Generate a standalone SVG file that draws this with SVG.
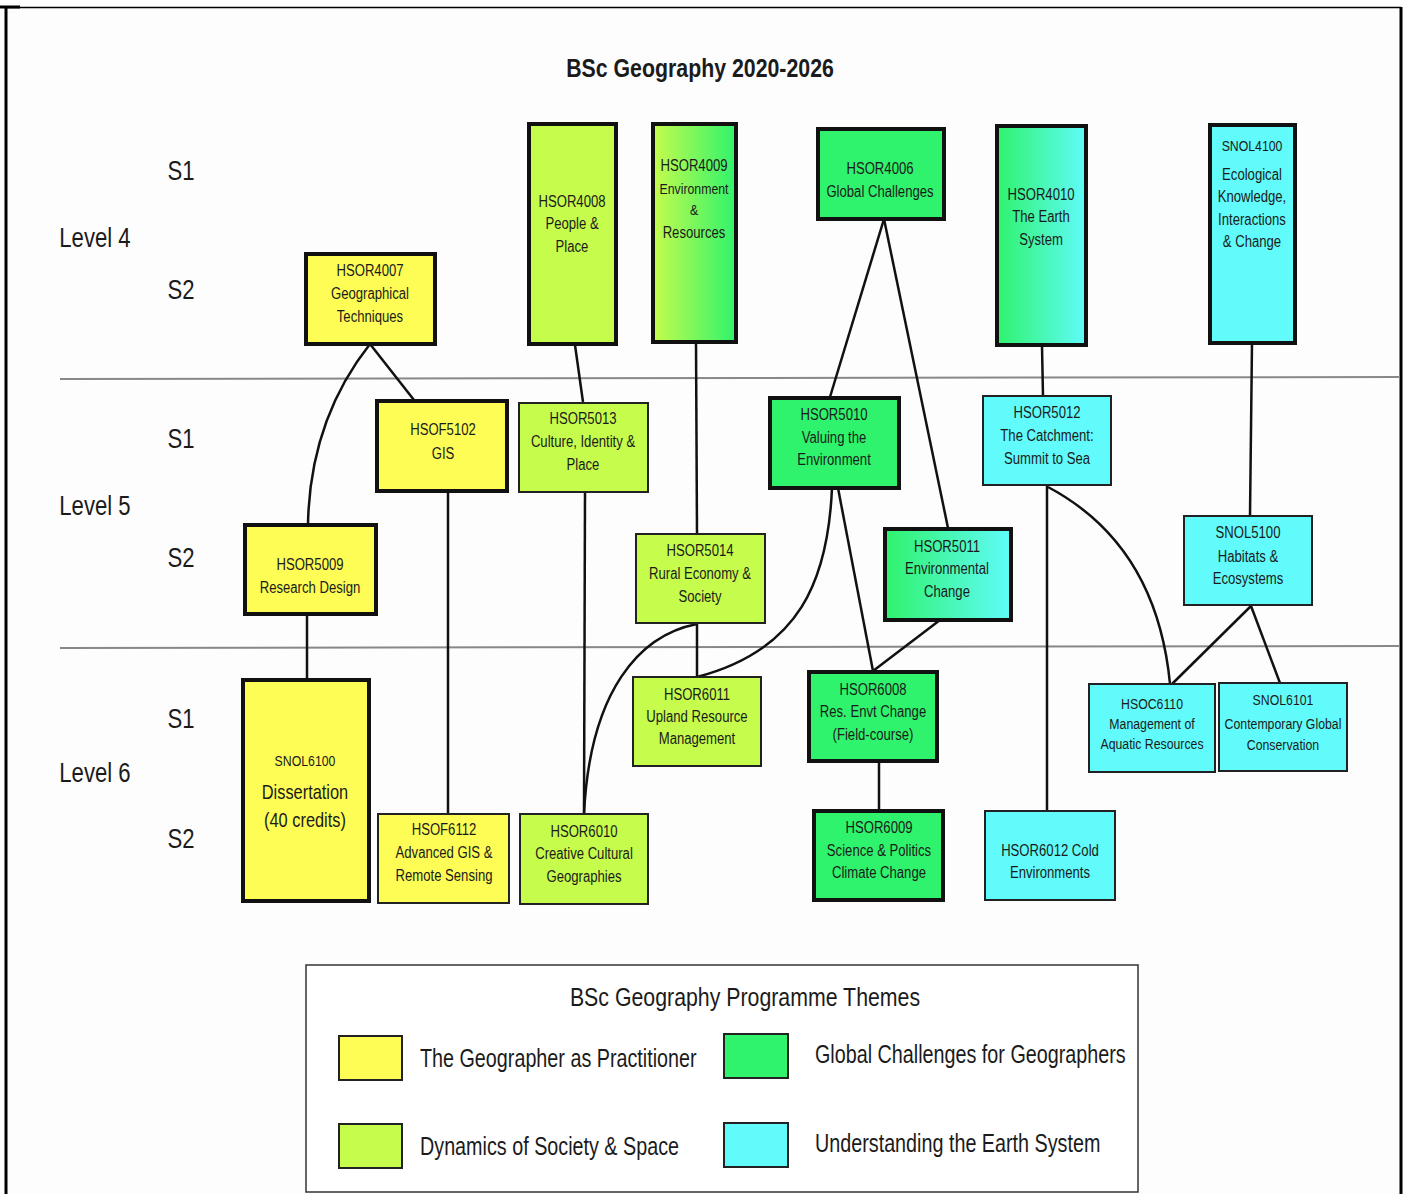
<svg xmlns="http://www.w3.org/2000/svg" width="1405" height="1194" viewBox="0 0 1405 1194">
<defs>
<linearGradient id="gLG" x1="0" y1="0" x2="1" y2="0"><stop offset="0" stop-color="#c6fc4c"/><stop offset="1" stop-color="#2ff36c"/></linearGradient>
<linearGradient id="gGC" x1="0" y1="0" x2="1" y2="0"><stop offset="0" stop-color="#2ff36c"/><stop offset="1" stop-color="#60fbfa"/></linearGradient>
<style>
text{font-family:"Liberation Sans",Arial,sans-serif;fill:#1b1b1b}
.c{text-anchor:middle;transform-box:fill-box;transform-origin:center;transform:scaleX(.82)}
.l{text-anchor:start;transform-box:fill-box;transform-origin:left center;transform:scaleX(.76)}
.n{font-size:16px}
.s{font-size:15px}
.lv{font-size:27px}
.y{fill:#fdfd55}.lm{fill:#c6fc4c}.g{fill:#2ff36c}.cy{fill:#60fbfa}
.k{stroke:#111;stroke-width:4}
.t{stroke:#222;stroke-width:2}
.e{fill:none;stroke:#111;stroke-width:2.5}
</style>
</defs>
<rect width="1405" height="1194" fill="#fff"/>
<rect x="7" y="8" width="1393" height="1186" fill="#fdfdfd"/>
<g id="frame" fill="none" stroke="#000">
<line x1="6" y1="7" x2="6" y2="1194" stroke-width="3"/>
<line x1="5" y1="7.5" x2="1401" y2="7.5" stroke-width="1.5"/>
<line x1="0" y1="7" x2="20" y2="7" stroke-width="3"/>
<line x1="1401" y1="7" x2="1401" y2="1194" stroke-width="3"/>
</g>
<text id="title" class="c" x="700" y="77" font-size="26" font-weight="bold">BSc Geography 2020-2026</text>
<g id="dividers" stroke="#888" stroke-width="2">
<line x1="60" y1="379" x2="1400" y2="377"/>
<line x1="60" y1="648" x2="1400" y2="646"/>
</g>
<g id="levels">
<text class="c lv" x="181" y="180">S1</text>
<text class="c lv" x="95" y="247">Level 4</text>
<text class="c lv" x="181" y="299">S2</text>
<text class="c lv" x="181" y="448">S1</text>
<text class="c lv" x="95" y="515">Level 5</text>
<text class="c lv" x="181" y="567">S2</text>
<text class="c lv" x="181" y="728">S1</text>
<text class="c lv" x="95" y="782">Level 6</text>
<text class="c lv" x="181" y="848">S2</text>
</g>
<g id="connectors">
<path class="e" d="M370,344 L414,400"/>
<path class="e" d="M370,344 Q310,420 308,524"/>
<path class="e" d="M575,345 L583,402"/>
<path class="e" d="M696,342 L697,534"/>
<path class="e" d="M884,219 L830,397"/>
<path class="e" d="M884,219 L948,528"/>
<path class="e" d="M1042,346 L1043,396"/>
<path class="e" d="M1252,343 L1250,516"/>
<path class="e" d="M448,491 L448,814"/>
<path class="e" d="M585,492 L584,814"/>
<path class="e" d="M307,615 L307,679"/>
<path class="e" d="M697,624 L697,677"/>
<path class="e" d="M697,624 C640,635 590,690 584,814"/>
<path class="e" d="M832,488 C828,580 800,650 697,677"/>
<path class="e" d="M838,488 L873,671"/>
<path class="e" d="M940,620 L873,671"/>
<path class="e" d="M879,762 L879,810"/>
<path class="e" d="M1047,486 L1047,810"/>
<path class="e" d="M1048,487 C1110,520 1160,580 1170,684"/>
<path class="e" d="M1251,606 L1172,684"/>
<path class="e" d="M1251,606 L1280,683"/>
</g>
<g id="HSOR4007"><rect class="y k" x="306" y="254" width="129" height="90"/>
<text class="c n" x="370" y="276">HSOR4007</text><text class="c n" x="370" y="299">Geographical</text><text class="c n" x="370" y="322">Techniques</text></g>
<g id="HSOR4008"><rect class="lm k" x="529" y="124" width="87" height="220"/>
<text class="c n" x="572" y="207">HSOR4008</text><text class="c n" x="572" y="229">People &amp;</text><text class="c n" x="572" y="252">Place</text></g>
<g id="HSOR4009"><rect fill="url(#gLG)" class="k" x="653" y="124" width="83" height="218"/>
<text class="c n" x="694" y="171">HSOR4009</text><text class="c s" x="694" y="194">Environment</text><text class="c s" x="694" y="215">&amp;</text><text class="c n" x="694" y="238">Resources</text></g>
<g id="HSOR4006"><rect class="g k" x="818" y="129" width="126" height="90"/>
<text class="c n" x="880" y="174">HSOR4006</text><text class="c n" x="880" y="197">Global Challenges</text></g>
<g id="HSOR4010"><rect fill="url(#gGC)" class="k" x="997" y="126" width="89" height="219"/>
<text class="c n" x="1041" y="200">HSOR4010</text><text class="c n" x="1041" y="222">The Earth</text><text class="c n" x="1041" y="245">System</text></g>
<g id="SNOL4100"><rect class="cy k" x="1210" y="125" width="85" height="218"/>
<text class="c s" x="1252" y="151">SNOL4100</text><text class="c n" x="1252" y="180">Ecological</text><text class="c n" x="1252" y="202">Knowledge,</text><text class="c n" x="1252" y="225">Interactions</text><text class="c n" x="1252" y="247">&amp; Change</text></g>
<g id="HSOF5102"><rect class="y k" x="377" y="401" width="130" height="90"/>
<text class="c n" x="443" y="435">HSOF5102</text><text class="c n" x="443" y="459">GIS</text></g>
<g id="HSOR5013"><rect class="lm t" x="519" y="403" width="129" height="89"/>
<text class="c n" x="583" y="424">HSOR5013</text><text class="c n" x="583" y="447">Culture, Identity &amp;</text><text class="c n" x="583" y="470">Place</text></g>
<g id="HSOR5009"><rect class="y k" x="245" y="525" width="131" height="89"/>
<text class="c n" x="310" y="570">HSOR5009</text><text class="c n" x="310" y="593">Research Design</text></g>
<g id="HSOR5014"><rect class="lm t" x="636" y="534" width="129" height="89"/>
<text class="c n" x="700" y="556">HSOR5014</text><text class="c n" x="700" y="579">Rural Economy &amp;</text><text class="c n" x="700" y="602">Society</text></g>
<g id="HSOR5010"><rect class="g k" x="770" y="398" width="129" height="90"/>
<text class="c n" x="834" y="420">HSOR5010</text><text class="c n" x="834" y="443">Valuing the</text><text class="c n" x="834" y="465">Environment</text></g>
<g id="HSOR5011"><rect fill="url(#gGC)" class="k" x="885" y="529" width="126" height="91"/>
<text class="c n" x="947" y="552">HSOR5011</text><text class="c n" x="947" y="574">Environmental</text><text class="c n" x="947" y="597">Change</text></g>
<g id="HSOR5012"><rect class="cy t" x="983" y="396" width="128" height="89"/>
<text class="c n" x="1047" y="418">HSOR5012</text><text class="c n" x="1047" y="441">The Catchment:</text><text class="c n" x="1047" y="464">Summit to Sea</text></g>
<g id="SNOL5100"><rect class="cy t" x="1184" y="516" width="128" height="89"/>
<text class="c n" x="1248" y="538">SNOL5100</text><text class="c n" x="1248" y="562">Habitats &amp;</text><text class="c n" x="1248" y="584">Ecosystems</text></g>
<g id="SNOL6100"><rect class="y k" x="243" y="680" width="126" height="221"/>
<text class="c s" x="305" y="766">SNOL6100</text><text class="c" x="305" y="799" font-size="20">Dissertation</text><text class="c" x="305" y="827" font-size="20">(40 credits)</text></g>
<g id="HSOF6112"><rect class="y t" x="378" y="814" width="131" height="89"/>
<text class="c n" x="444" y="835">HSOF6112</text><text class="c n" x="444" y="858">Advanced GIS &amp;</text><text class="c n" x="444" y="881">Remote Sensing</text></g>
<g id="HSOR6010"><rect class="lm t" x="520" y="814" width="128" height="90"/>
<text class="c n" x="584" y="837">HSOR6010</text><text class="c n" x="584" y="859">Creative Cultural</text><text class="c n" x="584" y="882">Geographies</text></g>
<g id="HSOR6011"><rect class="lm t" x="633" y="677" width="128" height="89"/>
<text class="c n" x="697" y="700">HSOR6011</text><text class="c n" x="697" y="722">Upland Resource</text><text class="c n" x="697" y="744">Management</text></g>
<g id="HSOR6008"><rect class="g k" x="809" y="672" width="128" height="89"/>
<text class="c n" x="873" y="695">HSOR6008</text><text class="c n" x="873" y="717">Res. Envt Change</text><text class="c n" x="873" y="740">(Field-course)</text></g>
<g id="HSOR6009"><rect class="g k" x="814" y="811" width="129" height="89"/>
<text class="c n" x="879" y="833">HSOR6009</text><text class="c n" x="879" y="856">Science &amp; Politics</text><text class="c n" x="879" y="878">Climate Change</text></g>
<g id="HSOR6012"><rect class="cy t" x="985" y="811" width="130" height="89"/>
<text class="c n" x="1050" y="856">HSOR6012 Cold</text><text class="c n" x="1050" y="878">Environments</text></g>
<g id="HSOC6110"><rect class="cy t" x="1089" y="684" width="126" height="88"/>
<text class="c s" x="1152" y="709">HSOC6110</text><text class="c s" x="1152" y="729">Management of</text><text class="c s" x="1152" y="749">Aquatic Resources</text></g>
<g id="SNOL6101"><rect class="cy t" x="1219" y="683" width="128" height="88"/>
<text class="c s" x="1283" y="705">SNOL6101</text><text class="c s" x="1283" y="729">Contemporary Global</text><text class="c s" x="1283" y="750">Conservation</text></g>
<g id="legend">
<rect x="306" y="965" width="832" height="227" fill="#fff" stroke="#333" stroke-width="1.5"/>
<text class="c" x="745" y="1006" font-size="26">BSc Geography Programme Themes</text>
<rect class="y" x="339" y="1036" width="63" height="44" stroke="#222" stroke-width="2"/>
<text class="l" x="420" y="1067" font-size="26">The Geographer as Practitioner</text>
<rect class="g" x="724" y="1034" width="64" height="44" stroke="#222" stroke-width="2"/>
<text class="l" x="815" y="1063" font-size="26">Global Challenges for Geographers</text>
<rect class="lm" x="339" y="1124" width="63" height="44" stroke="#222" stroke-width="2"/>
<text class="l" x="420" y="1155" font-size="26">Dynamics of Society &amp; Space</text>
<rect class="cy" x="724" y="1123" width="64" height="44" stroke="#222" stroke-width="2"/>
<text class="l" x="815" y="1152" font-size="26">Understanding the Earth System</text>
</g>
</svg>
